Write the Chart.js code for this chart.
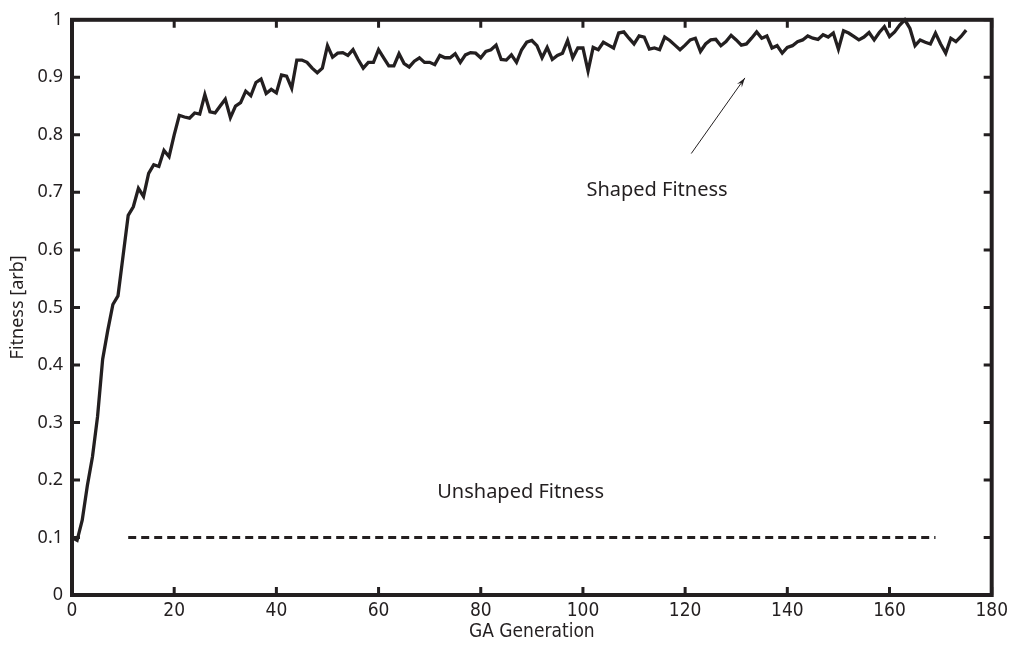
<!DOCTYPE html>
<html>
<head>
<meta charset="utf-8">
<script src="https://cdn.jsdelivr.net/npm/chart.js@4.4.1/dist/chart.umd.min.js"></script>
<style>
  html, body { margin: 0; padding: 0; background: #fff; }
  #wrap { width: 1013px; height: 647px; }
</style>
</head>
<body>
<div id="wrap"><canvas id="fitnessChart" width="1013" height="647"></canvas></div>
<script>
// shaped fitness, one value per GA generation (0..175)
const shapedFitness = [
  0.100, 0.095, 0.130, 0.190, 0.240, 0.310, 0.410, 0.460, 0.505, 0.520,
  0.590, 0.660, 0.675, 0.707, 0.693, 0.733, 0.748, 0.745, 0.773, 0.762,
  0.800, 0.834, 0.831, 0.829, 0.838, 0.836, 0.870, 0.840, 0.838, 0.850,
  0.862, 0.830, 0.850, 0.856, 0.876, 0.868, 0.891, 0.897, 0.872, 0.879,
  0.873, 0.904, 0.902, 0.881, 0.930, 0.930, 0.926, 0.916, 0.908, 0.916,
  0.955, 0.935, 0.942, 0.943, 0.938, 0.948, 0.931, 0.916, 0.926, 0.926,
  0.948, 0.934, 0.920, 0.920, 0.941, 0.924, 0.918, 0.928, 0.934, 0.926,
  0.926, 0.922, 0.938, 0.934, 0.934, 0.941, 0.926, 0.939, 0.943, 0.942,
  0.934, 0.945, 0.948, 0.956, 0.931, 0.930, 0.939, 0.926, 0.948, 0.961,
  0.964, 0.955, 0.934, 0.952, 0.931, 0.938, 0.942, 0.964, 0.934, 0.951,
  0.951, 0.911, 0.952, 0.948, 0.961, 0.956, 0.951, 0.977, 0.979, 0.968,
  0.958, 0.972, 0.970, 0.949, 0.951, 0.948, 0.970, 0.964, 0.956, 0.948,
  0.956, 0.965, 0.968, 0.945, 0.958, 0.965, 0.966, 0.955, 0.962, 0.973,
  0.965, 0.956, 0.958, 0.968, 0.979, 0.968, 0.972, 0.951, 0.955, 0.942,
  0.952, 0.955, 0.962, 0.965, 0.972, 0.968, 0.966, 0.974, 0.970, 0.977,
  0.949, 0.981, 0.977, 0.971, 0.965, 0.970, 0.978, 0.965, 0.978, 0.988,
  0.971, 0.979, 0.991, 1.000, 0.985, 0.955, 0.965, 0.961, 0.958, 0.977,
  0.958, 0.942, 0.968, 0.962, 0.971, 0.982
];

// unshaped fitness: flat dashed line
const unshapedGen = [11, 169];
const unshapedFitness = [0.1, 0.1];

const xTicks = [0, 20, 40, 60, 80, 100, 120, 140, 160, 180];
const yTicks = [0, 0.1, 0.2, 0.3, 0.4, 0.5, 0.6, 0.7, 0.8, 0.9, 1];

const ink = '#231f20';
const labelFont = '"Noto Sans", "Open Sans", sans-serif';
const narrowFont = '"Liberation Sans Narrow", "DejaVu Sans Condensed", "Noto Sans", sans-serif';

// frame with inward ticks on all four sides, plus the text annotations
const framePlugin = {
  id: 'frame',
  afterDatasetsDraw(chart) {
    const { ctx, chartArea: a, scales: { x, y } } = chart;
    ctx.save();
    ctx.strokeStyle = ink;
    ctx.lineWidth = 4;
    ctx.strokeRect(a.left, a.top, a.right - a.left, a.bottom - a.top);

    ctx.lineWidth = 3;
    const len = 8;
    xTicks.forEach(t => {
      const px = x.getPixelForValue(t);
      ctx.beginPath();
      ctx.moveTo(px, a.bottom); ctx.lineTo(px, a.bottom - len);
      ctx.moveTo(px, a.top); ctx.lineTo(px, a.top + len);
      ctx.stroke();
    });
    yTicks.forEach(t => {
      const py = y.getPixelForValue(t);
      ctx.beginPath();
      ctx.moveTo(a.left, py); ctx.lineTo(a.left + len, py);
      ctx.moveTo(a.right, py); ctx.lineTo(a.right - len, py);
      ctx.stroke();
    });

    // labels
    ctx.fillStyle = ink;
    ctx.font = '20px ' + labelFont;
    ctx.textAlign = 'center';
    ctx.textBaseline = 'middle';
    ctx.fillText('Shaped Fitness', x.getPixelForValue(114.5), y.getPixelForValue(0.704));
    ctx.fillText('Unshaped Fitness', x.getPixelForValue(87.8), y.getPixelForValue(0.179));

    // arrow towards the shaped curve
    const x0 = x.getPixelForValue(121.2), y0 = y.getPixelForValue(0.7675);
    const x1 = x.getPixelForValue(131.7), y1 = y.getPixelForValue(0.899);
    ctx.lineWidth = 1;
    ctx.beginPath();
    ctx.moveTo(x0, y0); ctx.lineTo(x1, y1);
    ctx.stroke();
    const ang = Math.atan2(y1 - y0, x1 - x0);
    const h = 10;
    ctx.beginPath();
    ctx.moveTo(x1, y1);
    ctx.lineTo(x1 - h * Math.cos(ang - 0.3), y1 - h * Math.sin(ang - 0.3));
    ctx.lineTo(x1 - 0.6 * h * Math.cos(ang), y1 - 0.6 * h * Math.sin(ang));
    ctx.lineTo(x1 - h * Math.cos(ang + 0.3), y1 - h * Math.sin(ang + 0.3));
    ctx.closePath();
    ctx.fill();
    ctx.restore();
  }
};

new Chart(document.getElementById('fitnessChart').getContext('2d'), {
  type: 'line',
  data: {
    datasets: [
      {
        label: 'Shaped Fitness',
        data: shapedFitness.map((v, i) => ({ x: i, y: v })),
        borderColor: ink,
        borderWidth: 3.3,
        pointRadius: 0,
        tension: 0,
        clip: false,
      },
      {
        label: 'Unshaped Fitness',
        data: unshapedGen.map((g, i) => ({ x: g, y: unshapedFitness[i] })),
        borderColor: ink,
        borderWidth: 3,
        borderDash: [8, 5],
        pointRadius: 0,
      },
    ],
  },
  options: {
    responsive: false,
    animation: false,
    layout: { padding: { left: 0, right: 21, top: 13, bottom: 4 } },
    plugins: { legend: { display: false }, tooltip: { enabled: false } },
    scales: {
      x: {
        type: 'linear',
        min: 0,
        max: 180,
        afterBuildTicks: s => { s.ticks = xTicks.map(v => ({ value: v })); },
        afterFit: s => { s.height = 48; },
        grid: { display: false, drawTicks: false },
        border: { display: false },
        ticks: { color: ink, padding: 5, font: { family: narrowFont, size: 19 }, maxRotation: 0 },
        title: { display: true, text: 'GA Generation', color: ink, padding: 0, font: { family: narrowFont, size: 19 } },
      },
      y: {
        min: 0,
        max: 1,
        afterBuildTicks: s => { s.ticks = yTicks.map(v => ({ value: v })); },
        afterFit: s => { s.width = 72; },
        grid: { display: false, drawTicks: false },
        border: { display: false },
        ticks: { color: ink, padding: 9, font: { family: labelFont, size: 18 }, callback: v => String(+v.toFixed(1)) },
        title: { display: true, text: 'Fitness [arb]', color: ink, padding: { top: 7, bottom: 0 }, font: { family: labelFont, size: 18 } },
      },
    },
  },
  plugins: [framePlugin],
});
</script>
</body>
</html>
